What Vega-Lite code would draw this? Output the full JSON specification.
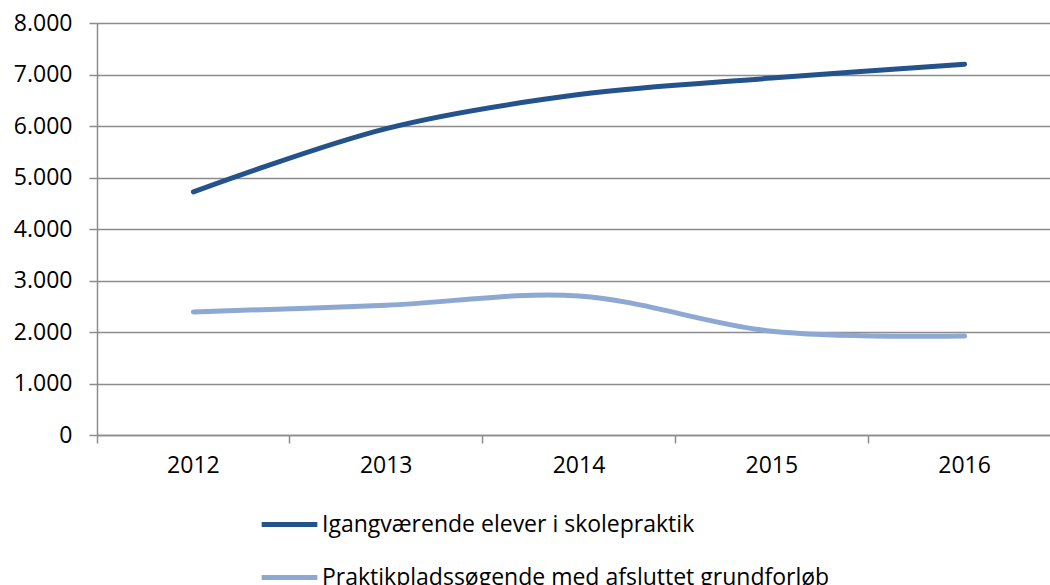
{
  "$schema": "https://vega.github.io/schema/vega-lite/v6.json",
  "width": 964,
  "height": 412,
  "autosize": {"type": "none"},
  "padding": {"left": 97, "top": 23, "right": 0, "bottom": 150},
  "background": "white",
  "data": {
    "values": [
      {"year": "2012", "serie": "Igangværende elever i skolepraktik", "value": 4720},
      {"year": "2013", "serie": "Igangværende elever i skolepraktik", "value": 5950},
      {"year": "2014", "serie": "Igangværende elever i skolepraktik", "value": 6610},
      {"year": "2015", "serie": "Igangværende elever i skolepraktik", "value": 6930},
      {"year": "2016", "serie": "Igangværende elever i skolepraktik", "value": 7200},
      {"year": "2012", "serie": "Praktikpladssøgende med afsluttet grundforløb", "value": 2390},
      {"year": "2013", "serie": "Praktikpladssøgende med afsluttet grundforløb", "value": 2520},
      {"year": "2014", "serie": "Praktikpladssøgende med afsluttet grundforløb", "value": 2700},
      {"year": "2015", "serie": "Praktikpladssøgende med afsluttet grundforløb", "value": 2015},
      {"year": "2016", "serie": "Praktikpladssøgende med afsluttet grundforløb", "value": 1920}
    ]
  },
  "mark": {"type": "line", "interpolate": "catmull-rom", "strokeWidth": 5, "strokeCap": "round", "strokeJoin": "round"},
  "encoding": {
    "x": {
      "field": "year", "type": "ordinal",
      "scale": {"type": "band", "paddingInner": 0, "paddingOuter": 0},
      "axis": {
        "title": null, "labelAngle": 0, "bandPosition": 0, "ticks": true, "tickSize": 8,
        "tickColor": "#8c8c8c", "tickWidth": 1.5, "domainColor": "#8c8c8c", "domainWidth": 1.5,
        "labelFont": "Open Sans", "labelFontSize": 23, "labelColor": "#000000",
        "labelPadding": 11, "labelBaseline": "top", "grid": false
      }
    },
    "y": {
      "field": "value", "type": "quantitative",
      "scale": {"domain": [0, 8000], "nice": false},
      "axis": {
        "title": null, "values": [0, 1000, 2000, 3000, 4000, 5000, 6000, 7000, 8000],
        "format": ",d", "tickSize": 8, "tickColor": "#8c8c8c", "tickWidth": 1.5,
        "domainColor": "#8c8c8c", "domainWidth": 1.5,
        "gridColor": "#8c8c8c", "gridWidth": 1.5, "grid": true,
        "labelFont": "Open Sans", "labelFontSize": 23, "labelColor": "#000000", "labelPadding": 17
      }
    },
    "color": {
      "field": "serie", "type": "nominal",
      "scale": {
        "domain": ["Igangværende elever i skolepraktik", "Praktikpladssøgende med afsluttet grundforløb"],
        "range": ["#24528A", "#8EA8D4"]
      },
      "legend": {
        "title": null, "orient": "none", "legendX": 162, "legendY": 471, "direction": "vertical",
        "symbolType": "stroke", "symbolSize": 3100, "symbolStrokeWidth": 5,
        "labelFont": "Open Sans", "labelFontSize": 23, "labelColor": "#000000",
        "labelOffset": 2, "rowPadding": 10, "labelLimit": 800
      }
    }
  },
  "config": {
    "view": {"stroke": null},
    "locale": {
      "number": {"decimal": ",", "thousands": ".", "grouping": [3], "currency": ["", " kr."]}
    }
  }
}
